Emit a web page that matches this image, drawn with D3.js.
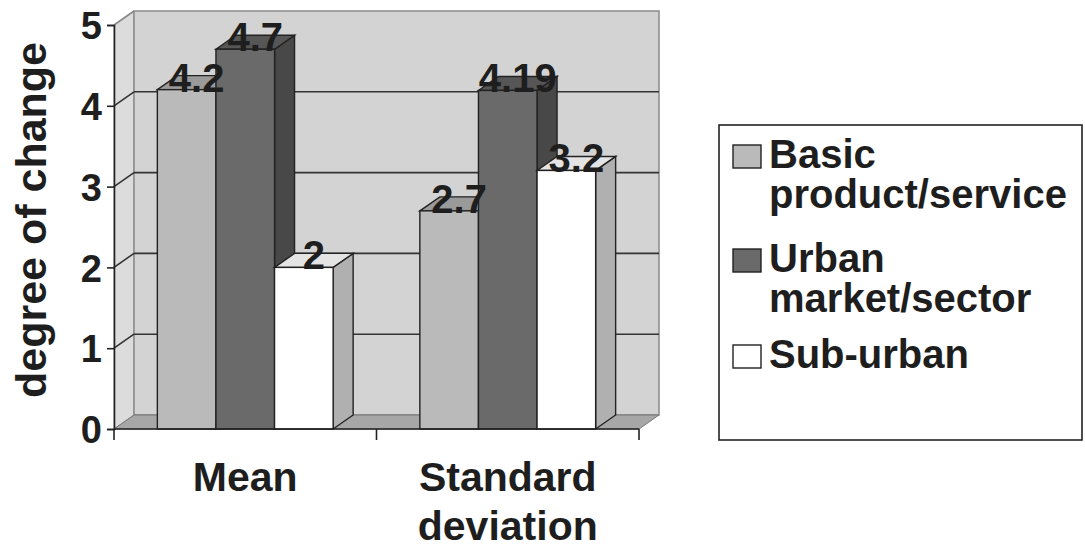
<!DOCTYPE html>
<html>
<head>
<meta charset="utf-8">
<script src="https://cdn.jsdelivr.net/npm/d3@7"></script>
<style>
  body { margin: 0; background: #fff; }
  text { font-family: "Liberation Sans", Arial, sans-serif; font-weight: bold; fill: #1e1e1e; }
</style>
</head>
<body>
<script>
/* DATA */
var categories = ["Mean", "Standard deviation"];
var seriesNames = ["Basic product/service", "Urban market/sector", "Sub-urban"];
var basicValues = [4.2, 2.7];
var urbanValues = [4.7, 4.19];
var suburbanValues = [2, 3.2];
var yTicks = [0, 1, 2, 3, 4, 5];
var legendLines = [["Basic", "product/service"], ["Urban", "market/sector"], ["Sub-urban"]];
var categoryLines = [["Mean"], ["Standard", "deviation"]];

// colours per series: front, side, top
var shades = [
  {front: "#bababa", side: "#a2a2a2", top: "#9a9a9a"},
  {front: "#6a6a6a", side: "#484848", top: "#565656"},
  {front: "#ffffff", side: "#b0b0b0", top: "#e4e4e4"}
];

var width = 1085, height = 550;
var dx = 20, dy = -14; // depth offset

var svg = d3.select("body").append("svg")
  .attr("width", width)
  .attr("height", height);

/* SCALES */
var y = d3.scaleLinear().domain([0, 5]).range([429, 25]);
var x0 = d3.scaleBand().domain(categories).range([114, 639]);
var x1 = d3.scaleBand().domain(seriesNames).range([0, x0.bandwidth()])
  .paddingInner(0).paddingOuter(0.74);

var rows = categories.map(function(c, i) {
  return [basicValues[i], urbanValues[i], suburbanValues[i]];
});

/* WALLS */
var xl = x0.range()[0], xr = x0.range()[1];
// left wall
svg.append("polygon")
  .attr("points", [[xl, y(0)], [xl, y(5)], [xl + dx, y(5) + dy], [xl + dx, y(0) + dy]].join(" "))
  .attr("fill", "#dcdcdc").attr("stroke", "#8a8a8a").attr("stroke-width", 1);
// back wall
svg.append("rect")
  .attr("x", xl + dx).attr("y", y(5) + dy)
  .attr("width", xr - xl).attr("height", y(0) - y(5))
  .attr("fill", "#d3d3d3").attr("stroke", "#8a8a8a").attr("stroke-width", 1.5);

// gridlines
yTicks.filter(function(t) { return t > 0 && t < 5; }).forEach(function(t) {
  svg.append("line")
    .attr("x1", xl + dx).attr("x2", xr + dx)
    .attr("y1", y(t) + dy).attr("y2", y(t) + dy)
    .attr("stroke", "#333").attr("stroke-width", 1.6);
});
yTicks.filter(function(t) { return t > 0; }).forEach(function(t) {
  svg.append("line")
    .attr("x1", xl).attr("x2", xl + dx)
    .attr("y1", y(t)).attr("y2", y(t) + dy)
    .attr("stroke", t == 5 ? "#8a8a8a" : "#333").attr("stroke-width", 1.6);
});

// floor
svg.append("polygon")
  .attr("points", [[xl, y(0)], [xr, y(0)], [xr + dx, y(0) + dy], [xl + dx, y(0) + dy]].join(" "))
  .attr("fill", "#a7a7a7").attr("stroke", "#777").attr("stroke-width", 1);

/* BARS */
rows.forEach(function(vals, ci) {
  var g = svg.append("g").attr("transform", "translate(" + x0(categories[ci]) + ",0)");
  vals.forEach(function(v, si) {
    var bx = x1(seriesNames[si]), bw = x1.bandwidth();
    var top = y(v), base = y(0);
    var s = shades[si];
    // side
    g.append("polygon")
      .attr("points", [[bx + bw, base], [bx + bw, top], [bx + bw + dx, top + dy], [bx + bw + dx, base + dy]].join(" "))
      .attr("fill", s.side).attr("stroke", "#222").attr("stroke-width", 1.4);
    // top
    g.append("polygon")
      .attr("points", [[bx, top], [bx + bw, top], [bx + bw + dx, top + dy], [bx + dx, top + dy]].join(" "))
      .attr("fill", s.top).attr("stroke", "#222").attr("stroke-width", 1.4);
    // front
    g.append("rect")
      .attr("x", bx).attr("y", top).attr("width", bw).attr("height", base - top)
      .attr("fill", s.front).attr("stroke", "#222").attr("stroke-width", 1.4);
  });
});

// value labels
rows.forEach(function(vals, ci) {
  vals.forEach(function(v, si) {
    svg.append("text")
      .attr("x", x0(categories[ci]) + x1(seriesNames[si]) + x1.bandwidth() / 2 + dx / 2)
      .attr("y", y(v) + 2)
      .attr("text-anchor", "middle")
      .style("font-size", "40px")
      .text(String(v));
  });
});

/* AXES */
var yAxis = svg.append("g")
  .attr("transform", "translate(" + xl + ",0)")
  .call(d3.axisLeft(y).tickValues(yTicks).tickSize(7).tickPadding(5).tickFormat(d3.format("d")));
yAxis.select(".domain").attr("stroke", "#222").attr("stroke-width", 1.6);
yAxis.selectAll(".tick line").attr("stroke", "#222").attr("stroke-width", 1.6);
yAxis.selectAll(".tick text")
  .attr("font-family", null).attr("font-size", null)
  .style("font-size", "38px").attr("dy", "0.36em");

// x axis line and boundary ticks
svg.append("line")
  .attr("x1", xl).attr("x2", xr).attr("y1", y(0)).attr("y2", y(0))
  .attr("stroke", "#222").attr("stroke-width", 1.6);
categories.map(function(c) { return x0(c); }).concat([xr]).forEach(function(tx) {
  svg.append("line")
    .attr("x1", tx).attr("x2", tx).attr("y1", y(0)).attr("y2", y(0) + 11)
    .attr("stroke", "#222").attr("stroke-width", 1.6);
});

// category labels
categoryLines.forEach(function(lines, ci) {
  var t = svg.append("text")
    .attr("x", x0(categories[ci]) + x0.bandwidth() / 2)
    .attr("y", 491)
    .attr("text-anchor", "middle")
    .style("font-size", "41px");
  lines.forEach(function(l, li) {
    t.append("tspan")
      .attr("x", x0(categories[ci]) + x0.bandwidth() / 2)
      .attr("dy", li == 0 ? 0 : 49)
      .text(l);
  });
});

// y axis title
svg.append("text")
  .attr("transform", "translate(46,220) rotate(-90)")
  .attr("text-anchor", "middle")
  .style("font-size", "43px")
  .text("degree of change");

/* LEGEND */
var legend = svg.append("g");
legend.append("rect")
  .attr("x", 719).attr("y", 125).attr("width", 363).attr("height", 315)
  .attr("fill", "#fff").attr("stroke", "#222").attr("stroke-width", 1.6);

var legendTop = [168, 272, 368];
legendLines.forEach(function(lines, i) {
  legend.append("rect")
    .attr("x", 733).attr("y", legendTop[i] - 23)
    .attr("width", 28).attr("height", 23)
    .attr("fill", shades[i].front).attr("stroke", "#222").attr("stroke-width", 1.4);
  lines.forEach(function(l, li) {
    legend.append("text")
      .attr("x", 769).attr("y", legendTop[i] + li * 40)
      .style("font-size", "40px")
      .text(l);
  });
});
</script>
</body>
</html>
